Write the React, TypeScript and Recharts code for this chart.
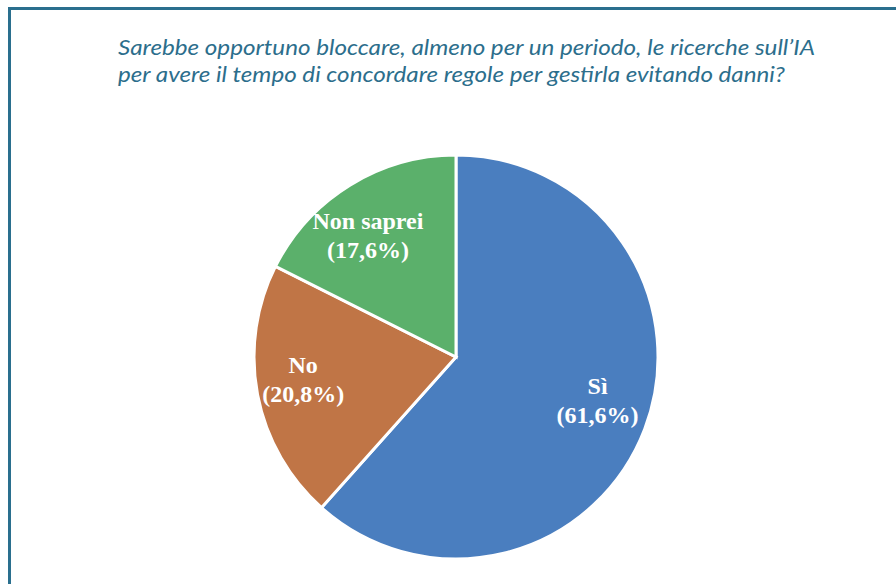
import { Cell, Pie, PieChart } from 'recharts'

// Survey answers, clockwise from 12 o'clock
const answers = ['Sì', 'No', 'Non saprei']
const shares = [61.6, 20.8, 17.6]
const colors = ['#4a7ebf', '#c07546', '#5bb06b']

const titleLines = [
  'Sarebbe opportuno bloccare, almeno per un periodo, le ricerche sull’IA',
  'per avere il tempo di concordare regole per gestirla evitando danni?',
]

// small hand nudges so labels sit where the original "best fit" put them
const labelNudge = [
  [1, -9],
  [-5, -4],
  [-9, 8],
]

const data = answers.map((name, i) => ({ name, value: shares[i] }))

const RADIAN = Math.PI / 180

function fmt(v: number) {
  return `(${v.toFixed(1).replace('.', ',')}%)`
}

function renderLabel(props: any) {
  const { cx, cy, midAngle, outerRadius, name, value, index } = props
  const r = outerRadius * 0.745
  const [nx, ny] = labelNudge[index] ?? [0, 0]
  const x = cx + r * Math.cos(-midAngle * RADIAN) + nx
  const y = cy + r * Math.sin(-midAngle * RADIAN) + ny
  return (
    <text
      x={x}
      y={y}
      fill="#ffffff"
      textAnchor="middle"
      fontFamily="'Liberation Serif', serif"
      fontWeight="bold"
      fontSize={24}
    >
      <tspan x={x} y={y - 8}>
        {name}
      </tspan>
      <tspan x={x} y={y + 21}>
        {fmt(value)}
      </tspan>
    </text>
  )
}

export default function App() {
  return (
    <div
      style={{
        position: 'absolute',
        left: 0,
        top: 0,
        width: 896,
        height: 584,
        background: '#ffffff',
        overflow: 'hidden',
      }}
    >
      <div
        style={{
          position: 'absolute',
          left: 8,
          top: 7,
          right: 0,
          bottom: 0,
          borderLeft: '3px solid #2a6f8e',
          borderTop: '3px solid #2a6f8e',
        }}
      />
      <svg width={896} height={110} style={{ position: 'absolute', left: 0, top: 0 }}>
        <text
          x={118}
          y={55}
          fill="#2c6e8c"
          fontFamily="Lato, 'Open Sans', sans-serif"
          fontStyle="italic"
          fontSize={21}
          textLength={697}
          lengthAdjust="spacingAndGlyphs"
        >
          {titleLines[0]}
        </text>
        <text
          x={118}
          y={82}
          fill="#2c6e8c"
          fontFamily="Lato, 'Open Sans', sans-serif"
          fontStyle="italic"
          fontSize={21}
          textLength={667}
          lengthAdjust="spacingAndGlyphs"
        >
          {titleLines[1]}
        </text>
      </svg>
      <div style={{ position: 'absolute', left: 0, top: 0 }}>
        <PieChart width={896} height={584} margin={{ top: 0, right: 0, bottom: 0, left: 0 }}>
          <Pie
            data={data}
            dataKey="value"
            nameKey="name"
            cx={456}
            cy={357}
            outerRadius={202}
            startAngle={90}
            endAngle={-270}
            stroke="#ffffff"
            strokeWidth={3}
            label={renderLabel}
            labelLine={false}
            isAnimationActive={false}
          >
            {data.map((d, i) => (
              <Cell key={d.name} fill={colors[i]} />
            ))}
          </Pie>
        </PieChart>
      </div>
    </div>
  )
}
